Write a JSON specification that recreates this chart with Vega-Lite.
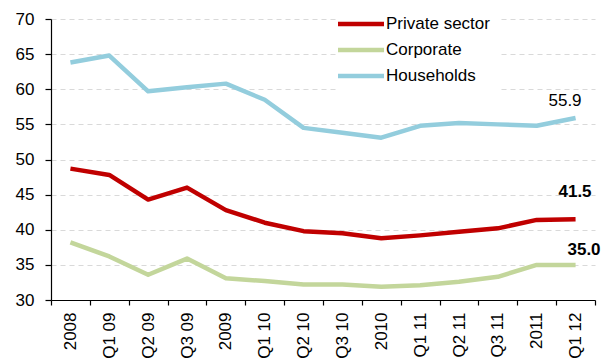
{
  "$schema": "https://vega.github.io/schema/vega-lite/v6.json",
  "width": 544,
  "height": 281,
  "autosize": "none",
  "padding": {"left": 51, "top": 19, "right": 7, "bottom": 60},
  "background": "white",
  "config": {
    "font": "Liberation Sans",
    "view": {"stroke": null},
    "axis": {"labelFont": "Liberation Sans", "labelColor": "black", "domainColor": "black", "tickColor": "black", "domainWidth": 1.2, "tickWidth": 1.2, "labelFontSize": 17}
  },
  "data": {
    "values": [
      {"q": "2008", "series": "Private sector", "value": 48.7},
      {"q": "Q1 09", "series": "Private sector", "value": 47.8},
      {"q": "Q2 09", "series": "Private sector", "value": 44.3},
      {"q": "Q3 09", "series": "Private sector", "value": 46.0},
      {"q": "2009", "series": "Private sector", "value": 42.8},
      {"q": "Q1 10", "series": "Private sector", "value": 41.0},
      {"q": "Q2 10", "series": "Private sector", "value": 39.8},
      {"q": "Q3 10", "series": "Private sector", "value": 39.5},
      {"q": "2010", "series": "Private sector", "value": 38.8},
      {"q": "Q1 11", "series": "Private sector", "value": 39.2},
      {"q": "Q2 11", "series": "Private sector", "value": 39.7},
      {"q": "Q3 11", "series": "Private sector", "value": 40.2},
      {"q": "2011", "series": "Private sector", "value": 41.4},
      {"q": "Q1 12", "series": "Private sector", "value": 41.5},
      {"q": "2008", "series": "Corporate", "value": 38.2},
      {"q": "Q1 09", "series": "Corporate", "value": 36.2},
      {"q": "Q2 09", "series": "Corporate", "value": 33.6},
      {"q": "Q3 09", "series": "Corporate", "value": 35.9},
      {"q": "2009", "series": "Corporate", "value": 33.1},
      {"q": "Q1 10", "series": "Corporate", "value": 32.7},
      {"q": "Q2 10", "series": "Corporate", "value": 32.2},
      {"q": "Q3 10", "series": "Corporate", "value": 32.2},
      {"q": "2010", "series": "Corporate", "value": 31.9},
      {"q": "Q1 11", "series": "Corporate", "value": 32.1},
      {"q": "Q2 11", "series": "Corporate", "value": 32.6},
      {"q": "Q3 11", "series": "Corporate", "value": 33.3},
      {"q": "2011", "series": "Corporate", "value": 35.0},
      {"q": "Q1 12", "series": "Corporate", "value": 35.0},
      {"q": "2008", "series": "Households", "value": 63.8},
      {"q": "Q1 09", "series": "Households", "value": 64.8},
      {"q": "Q2 09", "series": "Households", "value": 59.7},
      {"q": "Q3 09", "series": "Households", "value": 60.3},
      {"q": "2009", "series": "Households", "value": 60.8},
      {"q": "Q1 10", "series": "Households", "value": 58.5},
      {"q": "Q2 10", "series": "Households", "value": 54.5},
      {"q": "Q3 10", "series": "Households", "value": 53.8},
      {"q": "2010", "series": "Households", "value": 53.1},
      {"q": "Q1 11", "series": "Households", "value": 54.8},
      {"q": "Q2 11", "series": "Households", "value": 55.2},
      {"q": "Q3 11", "series": "Households", "value": 55.0},
      {"q": "2011", "series": "Households", "value": 54.8},
      {"q": "Q1 12", "series": "Households", "value": 55.9}
    ]
  },
  "encoding": {
    "x": {
      "field": "q",
      "type": "ordinal",
      "sort": ["2008", "Q1 09", "Q2 09", "Q3 09", "2009", "Q1 10", "Q2 10", "Q3 10", "2010", "Q1 11", "Q2 11", "Q3 11", "2011", "Q1 12"],
      "scale": {"type": "band", "paddingInner": 0, "paddingOuter": 0},
      "axis": {"title": null, "labelAngle": -90, "tickBand": "extent", "tickSize": 5, "labelPadding": 7, "grid": false}
    },
    "y": {
      "field": "value",
      "type": "quantitative",
      "scale": {"domain": [30, 70], "nice": false, "zero": false},
      "axis": {"title": null, "values": [30, 35, 40, 45, 50, 55, 60, 65, 70], "grid": true, "gridDash": [5, 4], "gridColor": "#d9d9d9", "gridWidth": 1.2, "tickSize": 6, "labelPadding": 11}
    }
  },
  "layer": [
    {
      "mark": {"type": "line", "strokeWidth": 4.5, "strokeJoin": "round"},
      "encoding": {
        "color": {
          "field": "series",
          "type": "nominal",
          "scale": {"domain": ["Private sector", "Corporate", "Households"], "range": ["#C00000", "#C3D69B", "#93CDDD"]},
          "legend": {
            "title": null,
            "orient": "none",
            "legendX": 286,
            "legendY": -19,
            "padding": 10,
            "fillColor": "white",
            "symbolType": "M-2,0H2",
            "symbolSize": 529,
            "symbolStrokeWidth": 4.5,
            "symbolFillColor": "transparent",
            "labelFontSize": 17,
            "labelFont": "Liberation Sans",
            "labelColor": "black",
            "labelOffset": 11,
            "rowPadding": 3
          }
        }
      }
    },
    {
      "transform": [{"filter": "datum.series == 'Households' && datum.q == 'Q1 12'"}],
      "mark": {"type": "text", "align": "right", "baseline": "alphabetic", "dx": 6, "dy": -12, "fontSize": 17, "color": "black"},
      "encoding": {"text": {"field": "value", "type": "quantitative", "format": ".1f"}}
    },
    {
      "transform": [{"filter": "datum.series == 'Private sector' && datum.q == 'Q1 12'"}],
      "mark": {"type": "text", "align": "right", "baseline": "alphabetic", "dx": 16, "dy": -22, "fontSize": 17, "fontWeight": "bold", "color": "black"},
      "encoding": {"text": {"field": "value", "type": "quantitative", "format": ".1f"}}
    },
    {
      "transform": [{"filter": "datum.series == 'Corporate' && datum.q == 'Q1 12'"}],
      "mark": {"type": "text", "align": "right", "baseline": "alphabetic", "dx": 25, "dy": -10, "fontSize": 17, "fontWeight": "bold", "color": "black"},
      "encoding": {"text": {"field": "value", "type": "quantitative", "format": ".1f"}}
    }
  ]
}
